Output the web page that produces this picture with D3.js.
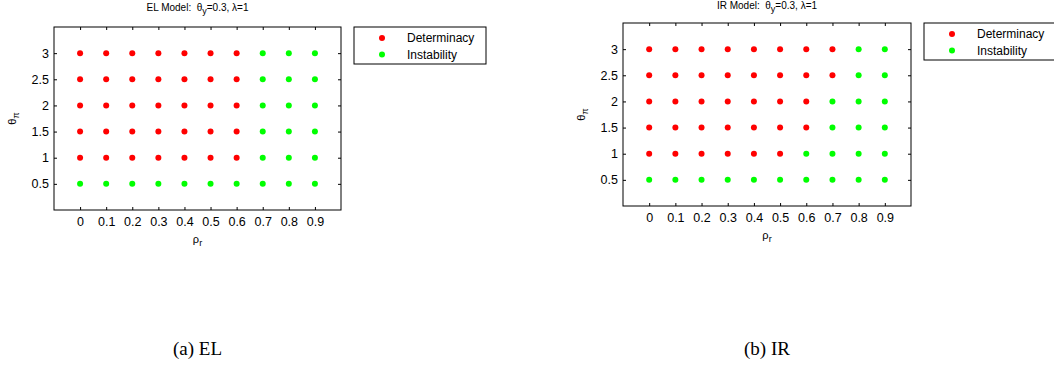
<!DOCTYPE html>
<html>
<head>
<meta charset="utf-8">
<script src="https://cdn.jsdelivr.net/npm/d3@7"></script>
<style>
	body { margin:0; background:#fff; }
	svg text { font-family:"Liberation Sans", Arial, sans-serif; fill:#000; }
	.caption { font-family:"Liberation Serif", "DejaVu Serif", serif; }
</style>
</head>
<body>
<svg id="fig" width="1054" height="382"></svg>
<script>
// grid of the experiment
const rhoValues   = [0, 0.1, 0.2, 0.3, 0.4, 0.5, 0.6, 0.7, 0.8, 0.9];
const thetaValues = [0.5, 1, 1.5, 2, 2.5, 3];
const rhoTicks    = [0, 0.1, 0.2, 0.3, 0.4, 0.5, 0.6, 0.7, 0.8, 0.9];
const thetaTicks  = [0.5, 1, 1.5, 2, 2.5, 3];
const legendLabels = ['Determinacy', 'Instability'];

// 1 = determinacy, 0 = instability; one row per theta (0.5 ... 3), one column per rho
const elStatus = [
	[0,0,0,0,0,0,0,0,0,0],
	[1,1,1,1,1,1,1,0,0,0],
	[1,1,1,1,1,1,1,0,0,0],
	[1,1,1,1,1,1,1,0,0,0],
	[1,1,1,1,1,1,1,0,0,0],
	[1,1,1,1,1,1,1,0,0,0]
];
const irStatus = [
	[0,0,0,0,0,0,0,0,0,0],
	[1,1,1,1,1,1,0,0,0,0],
	[1,1,1,1,1,1,1,0,0,0],
	[1,1,1,1,1,1,1,0,0,0],
	[1,1,1,1,1,1,1,1,0,0],
	[1,1,1,1,1,1,1,1,0,0]
];

const colors = ['#00ff00', '#ff0000']; // instability, determinacy

function toPoints(status) {
	const pts = [];
	thetaValues.forEach((t,i) => {
		rhoValues.forEach((r,j) => {
			pts.push({rho:r, theta:t, det:status[i][j]});
		});
	});
	return pts;
}

const svg = d3.select('#fig');
const fmt = d3.format('~g');

function panel(opts) {
	const w = opts.w, h = opts.h;
	const g = svg.append('g').attr('transform',`translate(${opts.x},${opts.y})`);

	const xScale = d3.scaleLinear().domain([-0.1, 1.0]).range([0, w]);
	const yScale = d3.scaleLinear().domain([0, 3.5]).range([h, 0]);

	// axes with inward ticks (matlab style), mirrored on top/right
	const xAxisG = g.append('g').attr('transform',`translate(0,${h})`)
		.call(d3.axisBottom(xScale).tickValues(rhoTicks).tickFormat(fmt).tickSizeInner(-3).tickSizeOuter(0).tickPadding(7));
	const yAxisG = g.append('g')
		.call(d3.axisLeft(yScale).tickValues(thetaTicks).tickFormat(fmt).tickSizeInner(-3).tickSizeOuter(0).tickPadding(5));
	const topG = g.append('g')
		.call(d3.axisTop(xScale).tickValues(rhoTicks).tickSizeInner(-3).tickSizeOuter(0).tickFormat(''));
	const rightG = g.append('g').attr('transform',`translate(${w},0)`)
		.call(d3.axisRight(yScale).tickValues(thetaTicks).tickSizeInner(-3).tickSizeOuter(0).tickFormat(''));
	[xAxisG, yAxisG, topG, rightG].forEach(a => {
		a.select('.domain').remove();
		a.selectAll('line').attr('stroke','#000');
		a.selectAll('text').attr('font-size',12.5).attr('font-family',null).attr('fill','#000');
	});

	g.append('rect')
		.attr('width',w).attr('height',h)
		.attr('fill','none').attr('stroke','#000').attr('stroke-width',1);

	g.selectAll('circle.pt').data(toPoints(opts.status))
		.enter().append('circle')
		.attr('class','pt')
		.attr('cx',d=>xScale(d.rho))
		.attr('cy',d=>yScale(d.theta))
		.attr('r',3)
		.attr('fill',d=>colors[d.det]);

	// title
	const title = g.append('text')
		.attr('x',w/2).attr('y',opts.titleY)
		.attr('text-anchor','middle')
		.attr('font-size',10)
		.style('white-space','pre');
	title.append('tspan').text(opts.model + ' Model:  \u03b8');
	title.append('tspan').attr('dy',3).attr('font-size',9).text('y');
	title.append('tspan').attr('dy',-3).text('=0.3, \u03bb=1');

	// x label
	const xl = g.append('text')
		.attr('x',w/2).attr('y',h+33)
		.attr('text-anchor','middle').attr('font-size',11);
	xl.append('tspan').text('\u03c1');
	xl.append('tspan').attr('dy',3).attr('font-size',9).text('r');

	// y label
	const yl = g.append('text')
		.attr('transform',`translate(-38,${h/2}) rotate(-90)`)
		.attr('text-anchor','middle').attr('font-size',11);
	yl.append('tspan').text('\u03b8');
	yl.append('tspan').attr('dy',3).attr('font-size',9).text('\u03c0');

	// legend
	const lg = g.append('g').attr('transform',`translate(${w+13},0)`);
	lg.append('rect')
		.attr('width',132).attr('height',37)
		.attr('fill','#fff').attr('stroke','#000').attr('stroke-width',1);
	legendLabels.forEach((lab,i) => {
		lg.append('circle')
			.attr('cx',28).attr('cy',11+i*16.5).attr('r',3)
			.attr('fill',colors[1-i]);
		lg.append('text')
			.attr('x',53).attr('y',15+i*16.5)
			.attr('font-size',12)
			.text(lab);
	});

	svg.append('text')
		.attr('class','caption')
		.attr('x',opts.x + w/2).attr('y',355)
		.attr('text-anchor','middle')
		.attr('font-size',19)
		.text(opts.caption);
}

panel({x:54, y:27, w:287, h:183, status:elStatus, model:'EL', titleY:-16, caption:'(a) EL'});
panel({x:623, y:23, w:288, h:183, status:irStatus, model:'IR', titleY:-14, caption:'(b) IR'});
</script>
</body>
</html>
